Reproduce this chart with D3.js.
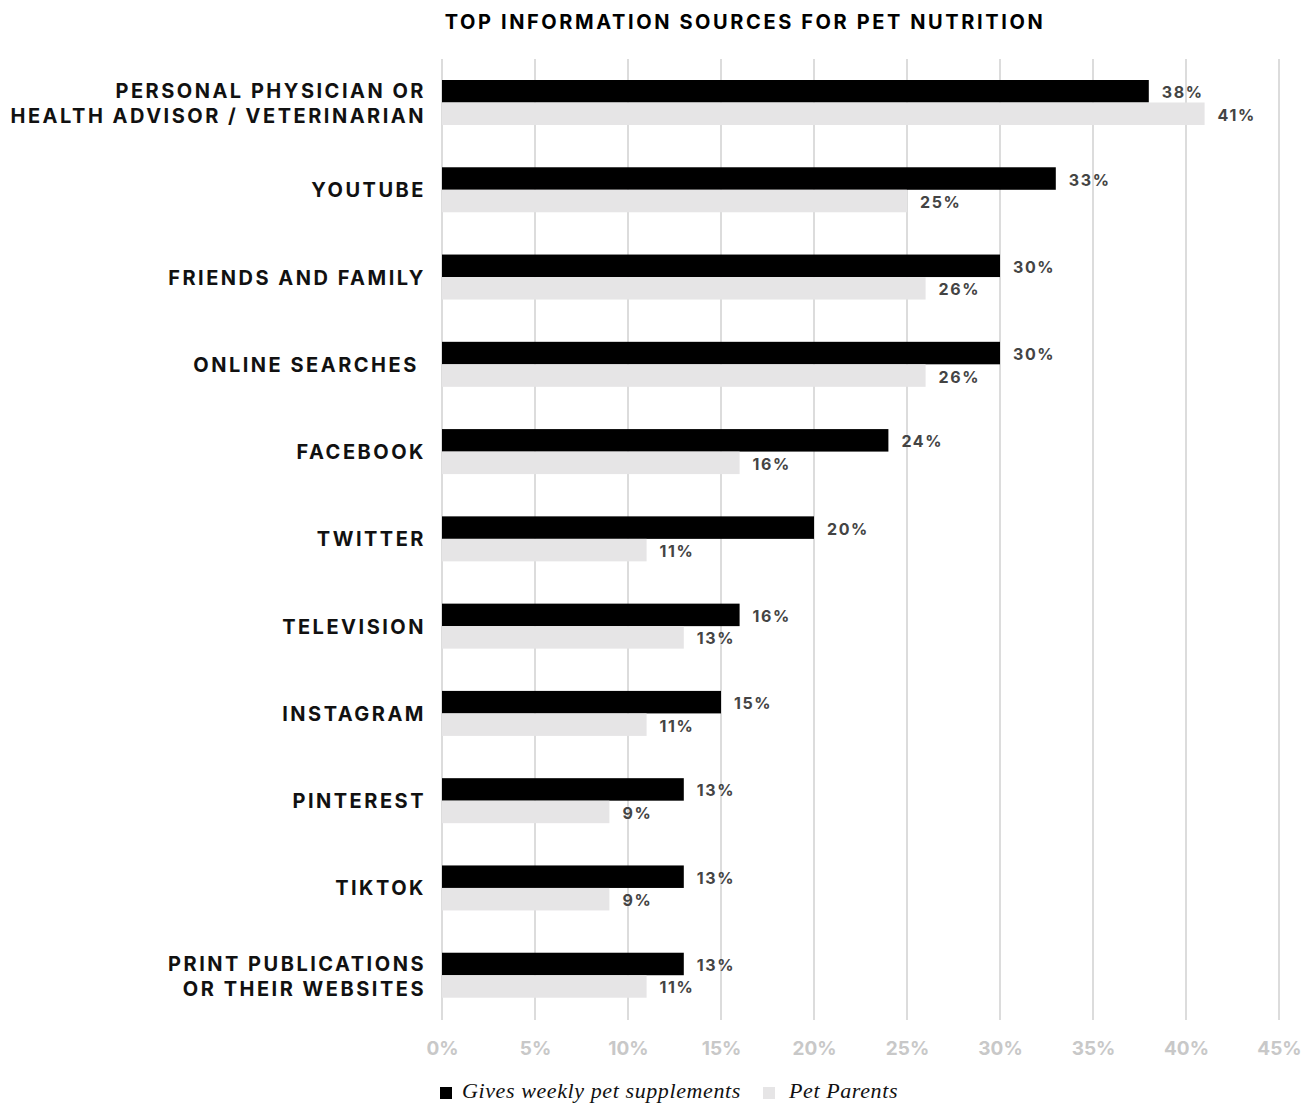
<!DOCTYPE html>
<html>
<head>
<meta charset="utf-8">
<script src="https://cdn.jsdelivr.net/npm/d3@7"></script>
<style>
  body { margin: 0; background: #fff; }
  svg { display: block; }
  text { font-family: Inter, "Open Sans", sans-serif; }
</style>
</head>
<body>
<div id="chart"></div>
<script>
// data
var categories = [
    "PERSONAL PHYSICIAN OR|HEALTH ADVISOR / VETERINARIAN",
    "YOUTUBE",
    "FRIENDS AND FAMILY",
    "ONLINE SEARCHES ",
    "FACEBOOK",
    "TWITTER",
    "TELEVISION",
    "INSTAGRAM",
    "PINTEREST",
    "TIKTOK",
    "PRINT PUBLICATIONS|OR THEIR WEBSITES"
];
var supplements = [38, 33, 30, 30, 24, 20, 16, 15, 13, 13, 13];
var petParents = [41, 25, 26, 26, 16, 11, 13, 11, 9, 9, 11];
var ticks = [0, 5, 10, 15, 20, 25, 30, 35, 40, 45];
var seriesNames = ["Gives weekly pet supplements", "Pet Parents"];
var seriesColors = ["#000000", "#e6e5e6"];

var width = 1313, height = 1103;

var svg = d3.select("#chart")
    .append("svg")
    .attr("width", width)
    .attr("height", height);

// scales
var x = d3.scaleLinear().domain([0, 45]).range([442, 1279]);
var y = d3.scaleBand().domain(categories).range([59, 1019]);

// title
svg.append("text")
    .attr("x", 745)
    .attr("y", 29)
    .attr("text-anchor", "middle")
    .style("font-size", "20px")
    .style("font-weight", 700)
    .style("letter-spacing", "2.6px")
    .text("TOP INFORMATION SOURCES FOR PET NUTRITION");

// grid lines
svg.append("g")
    .selectAll("line")
    .data(ticks)
    .enter()
    .append("line")
    .attr("x1", function(d) { return x(d); })
    .attr("x2", function(d) { return x(d); })
    .attr("y1", 59)
    .attr("y2", 1020)
    .attr("stroke", "#dcdcdc")
    .attr("stroke-width", 2);

// tick labels
var xAxis = d3.axisBottom(x)
    .tickValues(ticks)
    .tickFormat(function(d) { return d + "%"; })
    .tickSize(0)
    .tickPadding(0);

var axisG = svg.append("g")
    .attr("transform", "translate(0,1041)")
    .call(xAxis);
axisG.select(".domain").remove();
axisG.selectAll("text")
    .attr("fill", "#c8c8c8")
    .style("font-family", "Inter, sans-serif")
    .style("font-size", "19px")
    .style("font-weight", 700);

var barH = 22.5;

var rows = svg.append("g")
    .selectAll("g")
    .data(categories)
    .enter()
    .append("g")
    .attr("transform", function(d) { return "translate(0," + y(d) + ")"; });

// black bars
rows.append("rect")
    .attr("x", x(0))
    .attr("y", 21)
    .attr("height", barH)
    .attr("width", function(d, i) { return x(supplements[i]) - x(0); })
    .attr("fill", seriesColors[0]);

// grey bars
rows.append("rect")
    .attr("x", x(0))
    .attr("y", 21 + barH)
    .attr("height", barH)
    .attr("width", function(d, i) { return x(petParents[i]) - x(0); })
    .attr("fill", seriesColors[1]);

// value labels
rows.append("text")
    .attr("x", function(d, i) { return x(supplements[i]) + 13; })
    .attr("y", 21 + barH / 2 + 7)
    .attr("fill", "#444")
    .style("font-size", "16px")
    .style("font-weight", 700)
    .style("letter-spacing", "1.6px")
    .text(function(d, i) { return supplements[i] + "%"; });

rows.append("text")
    .attr("x", function(d, i) { return x(petParents[i]) + 13; })
    .attr("y", 21 + barH * 1.5 + 7)
    .attr("fill", "#444")
    .style("font-size", "16px")
    .style("font-weight", 700)
    .style("letter-spacing", "1.6px")
    .text(function(d, i) { return petParents[i] + "%"; });

// category labels
rows.each(function(d) {
    var lines = d.split("|");
    var t = d3.select(this).append("text")
        .attr("text-anchor", "end")
        .attr("xml:space", "preserve")
        .style("white-space", "pre")
        .style("font-size", "20px")
        .style("font-weight", 700)
        .style("letter-spacing", "2.5px")
        .attr("fill", "#111");
    var y0 = lines.length == 1 ? 51 : 39;
    lines.forEach(function(l, k) {
        t.append("tspan")
            .attr("x", 426)
            .attr("y", y0 + k * 25)
            .text(l);
    });
});

// legend
var legend = svg.append("g")
    .attr("transform", "translate(0,1093)");
var lx = [440, 763];
seriesNames.forEach(function(name, i) {
    legend.append("rect")
        .attr("x", lx[i])
        .attr("y", -6)
        .attr("width", 12)
        .attr("height", 12)
        .attr("fill", seriesColors[i]);
    legend.append("text")
        .attr("x", lx[i] + 22 + (i == 1 ? 4 : 0))
        .attr("y", 5)
        .style("font-family", "'Liberation Serif', 'DejaVu Serif', serif")
        .style("font-style", "italic")
        .style("font-size", "22px")
        .style("letter-spacing", "0.6px")
        .attr("fill", "#111")
        .text(name);
});
</script>
</body>
</html>
